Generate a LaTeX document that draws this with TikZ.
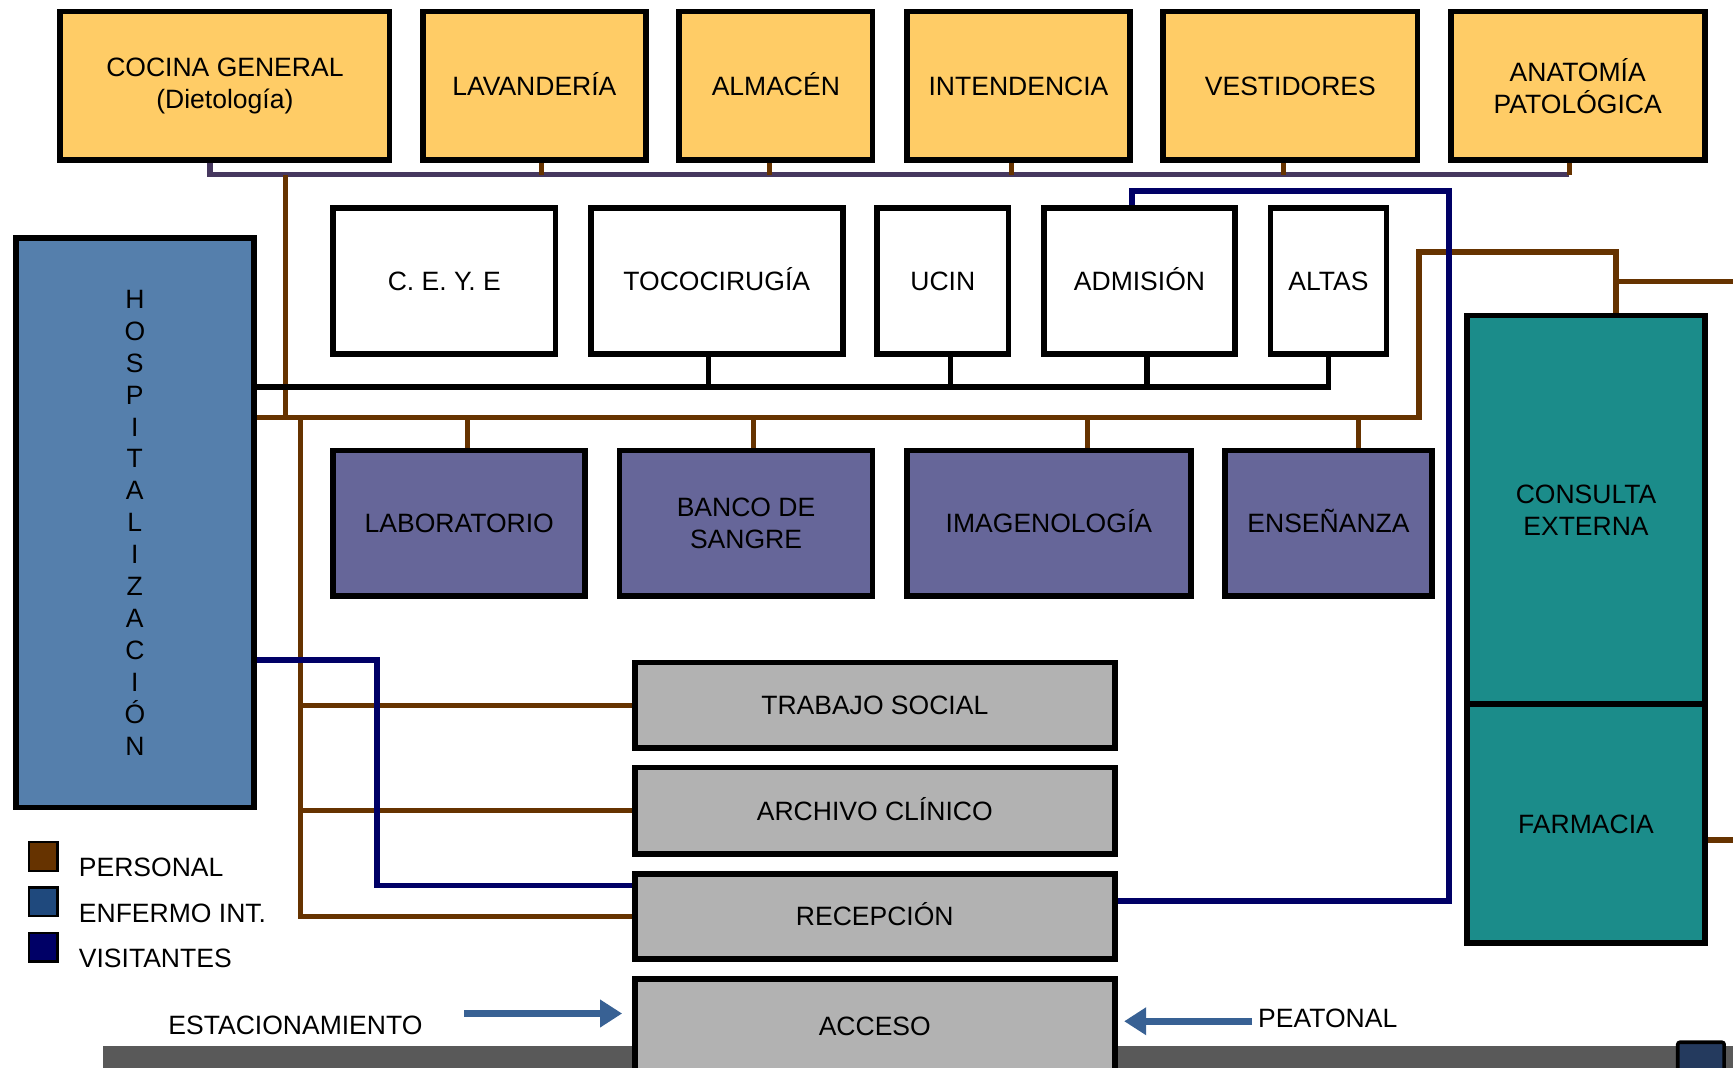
\documentclass[tikz,border=0pt]{standalone}
\usepackage{fontspec}
\setmainfont{Liberation Sans}
\usetikzlibrary{arrows.meta,backgrounds}
\definecolor{cyel}{HTML}{FFCC66}
\definecolor{cpur}{HTML}{666699}
\definecolor{chosp}{HTML}{557FAC}
\definecolor{cgray}{HTML}{B2B2B2}
\definecolor{cteal}{HTML}{1B8C8A}
\definecolor{cbrown}{HTML}{663300}
\definecolor{cbus}{HTML}{46385F}
\definecolor{cnavy}{HTML}{000066}
\definecolor{clegblue}{HTML}{1F497D}
\definecolor{carrow}{HTML}{386194}
\definecolor{croad}{HTML}{595959}
\definecolor{cdark}{HTML}{243A5E}
\newcommand\dgfont{\fontsize{12}{14.5}\selectfont}
\begin{document}
\begin{tikzpicture}[x=0.5pt,y=-0.5pt,
  box/.style={draw=black, line width=2.6pt, inner sep=0pt, align=center, font=\dgfont},
  sline/.style={text height=9pt, text depth=0.4pt},
  ybox/.style={box, fill=cyel},
  wbox/.style={box, fill=white, sline},
  pbox/.style={box, fill=cpur},
  gbox/.style={box, fill=cgray, sline},
  tbox/.style={box, fill=cteal},
  brn/.style={draw=cbrown, line width=2.4pt},
  pbus/.style={draw=cbus, line width=2.5pt},
  blk/.style={draw=black, line width=2.5pt},
  nav/.style={draw=cnavy, line width=2.5pt},
  legsq/.style={draw=black, line width=1pt, minimum size=13pt, inner sep=0pt},
  legtxt/.style={anchor=west, inner sep=0pt, font=\dgfont},
  bigarrow/.style={draw=carrow, line width=3.2pt, -{Triangle[length=10pt,width=12pt]}}
]
\useasboundingbox (0,0) rectangle (1568,966);

% road
\fill[croad] (93,946) rectangle (1568,980);

% top row
\node[ybox, minimum width=149pt, minimum height=67pt] (cocina) at (203.5,77.5) {COCINA GENERAL\\(Dietología)};
\node[ybox, sline, minimum width=101pt, minimum height=67pt] (lav) at (483.5,77.5) {LAVANDERÍA};
\node[ybox, sline, minimum width=87.5pt, minimum height=67pt] (alm) at (702,77.5) {ALMACÉN};
\node[ybox, sline, minimum width=101pt, minimum height=67pt] (int) at (921.5,77.5) {INTENDENCIA};
\node[ybox, sline, minimum width=115pt, minimum height=67pt] (vest) at (1167.5,77.5) {VESTIDORES};
\node[ybox, minimum width=115pt, minimum height=67pt] (anat) at (1427.5,77.5) {ANATOMÍA\\PATOLÓGICA};

% white row
\node[wbox, minimum width=100.5pt, minimum height=66pt] (ceye) at (402,254.5) {C. E. Y. E};
\node[wbox, minimum width=114pt, minimum height=66pt] (toco) at (648.5,254.5) {TOCOCIRUGÍA};
\node[wbox, minimum width=59.5pt, minimum height=66pt] (ucin) at (853,254.5) {UCIN};
\node[wbox, minimum width=86.5pt, minimum height=66pt] (adm) at (1031,254.5) {ADMISIÓN};
\node[wbox, minimum width=52.5pt, minimum height=66pt] (altas) at (1202,254.5) {ALTAS};

% purple row
\node[pbox, sline, minimum width=114pt, minimum height=66pt] (lab) at (415.5,473.5) {LABORATORIO};
\node[pbox, minimum width=114.5pt, minimum height=66pt] (banco) at (675,473.5) {BANCO DE\\SANGRE};
\node[pbox, sline, minimum width=128.5pt, minimum height=66pt] (imag) at (949,473.5) {IMAGENOLOGÍA};
\node[pbox, sline, minimum width=93.5pt, minimum height=66pt] (ens) at (1202,473.5) {ENSEÑANZA};

% hospitalizacion
\node[box, fill=chosp, minimum width=107.5pt, minimum height=257.5pt, font=\fontsize{12}{14.46}\selectfont] (hosp) at (122,473)
  {H\\O\\S\\P\\I\\T\\A\\L\\I\\Z\\A\\C\\I\\Ó\\N};

% gray column
\node[gbox, minimum width=217pt, minimum height=38.5pt] (trab) at (791.5,638) {TRABAJO SOCIAL};
\node[gbox, minimum width=217pt, minimum height=39pt] (arch) at (791.5,733.5) {ARCHIVO CLÍNICO};
\node[gbox, minimum width=217pt, minimum height=38.5pt] (recep) at (791.5,829) {RECEPCIÓN};
\node[gbox, minimum width=217pt, minimum height=42pt] (acceso) at (791.5,928) {ACCESO};

% consulta / farmacia
\node[tbox, minimum width=107.5pt, minimum height=175.75pt] (consulta) at (1435,461.25) {CONSULTA\\EXTERNA};
\node[tbox, sline, minimum width=107.5pt, minimum height=108.25pt] (farm) at (1435,745.25) {FARMACIA};

% small dark box bottom right
\draw[fill=cdark, line width=1.6pt, rounded corners=1pt] (1518,943) rectangle (1560,990);

% coordinates
\coordinate (topbus) at (0,158);
\coordinate (topbusR) at (1420,158);
\coordinate (blkbus) at (0,350);
\coordinate (bbus) at (0,378);
\coordinate (brtop) at (1284,228);
\coordinate (brright) at (1568,255);
\coordinate (j1) at (258,158);
\coordinate (j2) at (258,378);
\coordinate (j3) at (272,378);
\coordinate (farmR) at (1568,760);
\coordinate (navX) at (341,700);
\coordinate (navY) at (1311,173);
\coordinate (estA) at (420,917);
\coordinate (peaA) at (1133,924);

\begin{scope}[on background layer]
% top bus
\draw[pbus] ([xshift=-6.75pt]cocina.south) |- (topbusR);
\draw[brn] ([xshift=3.25pt]lav.south) -- ([xshift=3.25pt]lav.south |- topbus);
\draw[brn] ([xshift=-3pt]alm.south) -- ([xshift=-3pt]alm.south |- topbus);
\draw[brn] ([xshift=-3.25pt]int.south) -- ([xshift=-3.25pt]int.south |- topbus);
\draw[brn] ([xshift=-3.25pt]vest.south) -- ([xshift=-3.25pt]vest.south |- topbus);
\draw[brn] ([xshift=-3.75pt]anat.south) -- ([xshift=-3.75pt]anat.south |- topbus);
\draw[brn] (j1) -- (j2);
% black bus
\draw[blk] (hosp.east |- blkbus) -| (altas.south);
\draw[blk] ([xshift=-3.75pt]toco.south) -- ([xshift=-3.75pt]toco.south |- blkbus);
\draw[blk] ([xshift=3.5pt]ucin.south) -- ([xshift=3.5pt]ucin.south |- blkbus);
\draw[blk] ([xshift=3.5pt]adm.south) -- ([xshift=3.5pt]adm.south |- blkbus);
% brown main bus
\draw[brn] (hosp.east |- bbus) -| (brtop) -| ([xshift=13.5pt]consulta.north);
\draw[brn] ([xshift=13.5pt]consulta.north |- brright) -- (brright);
\draw[brn] ([xshift=3.75pt]lab.north) -- ([xshift=3.75pt]lab.north |- bbus);
\draw[brn] ([xshift=3.5pt]banco.north) -- ([xshift=3.5pt]banco.north |- bbus);
\draw[brn] ([xshift=17.5pt]imag.north) -- ([xshift=17.5pt]imag.north |- bbus);
\draw[brn] ([xshift=13.5pt]ens.north) -- ([xshift=13.5pt]ens.north |- bbus);
% brown to gray boxes
\draw[brn] (j3) |- (recep.west);
\draw[brn] (j3 |- trab.west) -- (trab.west);
\draw[brn] (j3 |- arch.west) -- (arch.west);
\draw[brn] ([yshift=-7.4pt]farm.east) -- ([yshift=-7.4pt]farm.east -| farmR);
% navy
\draw[nav] ([yshift=-62pt]hosp.east) -| (navX) |- ([yshift=14pt]recep.west);
\draw[nav] ([yshift=7pt]recep.east) -| (navY) -| ([xshift=-3.5pt]adm.north);
\end{scope}

% legend
\node[legsq, fill=cbrown] (l1) at (39,775) {};
\node[legsq, fill=clegblue] (l2) at (39,816) {};
\node[legsq, fill=cnavy] (l3) at (39,857) {};
\node[legtxt] (t1) at (71,785) {PERSONAL};
\node[legtxt] (t2) at (71,826) {ENFERMO INT.};
\node[legtxt] (t3) at (71,867) {VISITANTES};

% access arrows
\node[legtxt] (est) at (152,928) {ESTACIONAMIENTO};
\node[legtxt] (pea) at (1138,921) {PEATONAL};
\draw[bigarrow] (estA) -- ([xshift=-4.5pt,yshift=5.5pt]acceso.west);
\draw[bigarrow] (peaA) -- ([xshift=3pt,yshift=2pt]acceso.east);
\end{tikzpicture}
\end{document}
